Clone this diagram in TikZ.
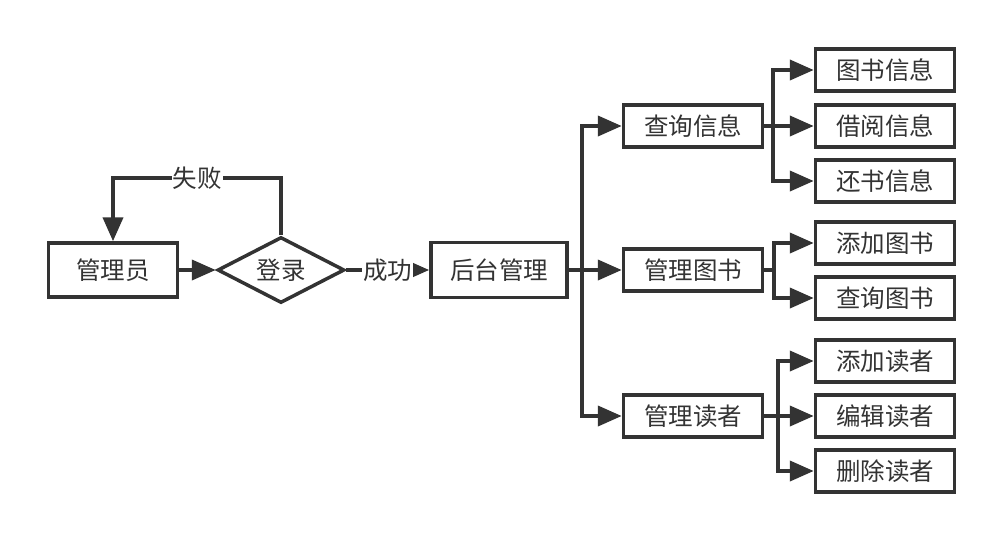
\documentclass[tikz,border=0pt]{standalone}
\usepackage{fontspec}
\setmainfont{Noto Sans CJK SC}
\usetikzlibrary{arrows.meta,shapes.geometric}
\definecolor{ink}{HTML}{333333}
\begin{document}
\begin{tikzpicture}[x=1pt,y=-1pt,
  every node/.style={font=\fontsize{24.5}{28}\selectfont, text=ink},
  box/.style={draw=ink, line width=3.5pt, rectangle, inner sep=0pt},
  lvl/.style={box, minimum width=139pt, minimum height=42pt},
  dia/.style={draw=ink, line width=3.5pt, diamond, aspect=1.92, inner sep=0pt, minimum width=127pt, minimum height=66pt},
  conn/.style={draw=ink, line width=4pt},
  arr/.style={conn, -{Triangle[length=24pt,width=20pt]}}]
\useasboundingbox (0,0) rectangle (1004,542);
% main chain
\node[box, minimum width=129pt, minimum height=54pt] (gly) at (113,270) {管理员};
\node[dia] (dl) at (281,270) {登录};
\node[box, minimum width=136pt, minimum height=55pt] (ht) at (499,270) {后台管理};
% level 2
\node[lvl] (cx) at (693,126) {查询信息};
\node[lvl] (gt) at (693,270) {管理图书};
\node[lvl] (gd) at (693,416) {管理读者};
% level 3
\node[lvl] (a1) at (885,70) {图书信息};
\node[lvl] (a2) at (885,126) {借阅信息};
\node[lvl] (a3) at (885,181) {还书信息};
\node[lvl] (b1) at (885,243) {添加图书};
\node[lvl] (b2) at (885,298) {查询图书};
\node[lvl] (c1) at (885,361) {添加读者};
\node[lvl] (c2) at (885,416) {编辑读者};
\node[lvl] (c3) at (885,471) {删除读者};
% junction coordinates
\coordinate (f1) at (281,178);
\coordinate (f2) at (113,178);
\coordinate (t0) at (582,270);
\coordinate (j1) at (773,126);
\coordinate (j2) at (774,270);
\coordinate (j3) at (778,416);
% connectors
\draw[arr] (gly.east) -- (dl.west);
\draw[arr] (dl.east) -- node[fill=white, inner sep=1pt] (cg) {成功} (ht.west);
\draw[arr] (dl.north) -- (f1) -- node[fill=white, inner sep=1pt] (sb) {失败} (f2) -- (gly.north);
\draw[arr] (ht.east) -- (t0) |- (cx.west);
\draw[arr] (t0) -- (gt.west);
\draw[arr] (t0) |- (gd.west);
\draw[arr] (cx.east) -- (j1) |- (a1.west);
\draw[arr] (j1) -- (a2.west);
\draw[arr] (j1) |- (a3.west);
\draw[arr] (gt.east) -- (j2) |- (b1.west);
\draw[arr] (j2) |- (b2.west);
\draw[arr] (gd.east) -- (j3) |- (c1.west);
\draw[arr] (j3) -- (c2.west);
\draw[arr] (j3) |- (c3.west);
\end{tikzpicture}
\end{document}
